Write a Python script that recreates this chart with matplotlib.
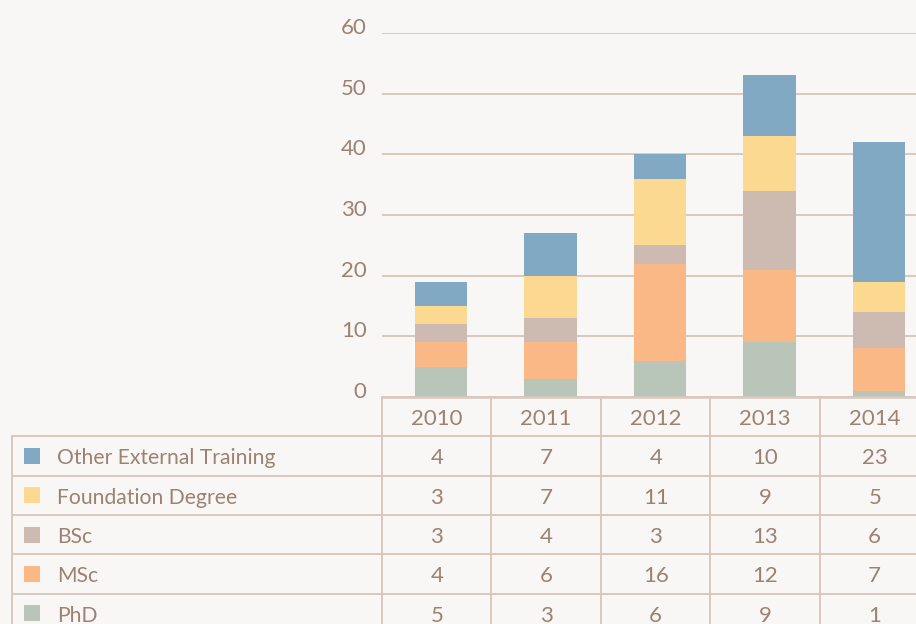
import numpy as np
import matplotlib.pyplot as plt
from matplotlib.transforms import ScaledTranslation

years = ['2010', '2011', '2012', '2013', '2014']
phd = [5, 3, 6, 9, 1]
msc = [4, 6, 16, 12, 7]
bsc = [3, 4, 3, 13, 6]
foundation = [3, 7, 11, 9, 5]
other = [4, 7, 4, 10, 23]

# bottom-up stacking order
series = [('PhD', phd, '#bac5b9'),
          ('MSc', msc, '#fbb887'),
          ('BSc', bsc, '#cdbab0'),
          ('Foundation Degree', foundation, '#fbd991'),
          ('Other External Training', other, '#82a9c4')]

bg = '#f9f7f5'
txt = '#9b8272'
line = '#d9c8be'
fs = 15.2
plt.rcParams['font.family'] = ['Lato', 'DejaVu Sans']

W, H = 916, 624
fig = plt.figure(figsize=(W / 100, H / 100), dpi=100, facecolor=bg)

col_w = 109.5  # px per year column
x0 = 382       # left edge of plot / first year column
ax = fig.add_axes([x0 / W, (624 - 397) / H, 5 * col_w / W, 364 / H])
ax.set_facecolor(bg)
x = np.arange(len(years))
bottom = np.zeros(len(years))
for name, vals, c in series:
    ax.bar(x + 0.04, vals, 0.48, bottom=bottom, color=c, zorder=3)
    bottom += np.array(vals)
ax.set_xlim(-0.5, 4.5)
ax.set_ylim(0, 60)
ax.set_yticks(range(0, 61, 10))
ax.set_xticks([])
ax.yaxis.grid(True, color=line, lw=1.4, zorder=0)
for s in ax.spines.values():
    s.set_visible(False)
ax.tick_params(axis='y', length=0, pad=11, labelsize=fs + 0.8, labelcolor=txt)
for lab in ax.get_yticklabels():
    lab.set_transform(lab.get_transform() + ScaledTranslation(0, 5 / 72, fig.dpi_scale_trans))

# data table under the chart
left_units = (x0 - 12) / col_w
tb = fig.add_axes([12 / W, (624 - 633) / H, (5 * col_w + x0 - 12) / W, 236 / H])
tb.set_xlim(-0.5 - left_units, 4.5)
tb.set_ylim(6, 0)
tb.axis('off')
tb.patch.set_alpha(0)
lx = -0.5 - left_units
tb.plot([-0.5, 4.5], [0, 0], color=line, lw=1.8, clip_on=False)
for r in range(1, 6):
    tb.plot([lx, 4.5], [r, r], color=line, lw=1.4, clip_on=False)
tb.plot([lx, lx], [1, 6], color=line, lw=1.4, clip_on=False)
for v in np.arange(-0.5, 4.5, 1):
    tb.plot([v, v], [0, 6], color=line, lw=1.4, clip_on=False)
dy = 0.06
for i, yr in enumerate(years):
    tb.text(i, 0.5 + dy, yr, ha='center', va='center', color=txt, fontsize=fs + 0.8)
for r, (name, vals, c) in enumerate(series[::-1]):
    yc = r + 1.5
    tb.scatter([-0.5 - (x0 - 32) / col_w], [yc], marker='s', s=125, color=c, clip_on=False, linewidths=0)
    tb.text(-0.5 - (x0 - 57) / col_w, yc + dy, name, ha='left', va='center', color=txt, fontsize=fs)
    for i, v in enumerate(vals):
        tb.text(i, yc + dy, str(v), ha='center', va='center', color=txt, fontsize=fs + 0.8)

fig.savefig('out.png', dpi=100, facecolor=bg)
